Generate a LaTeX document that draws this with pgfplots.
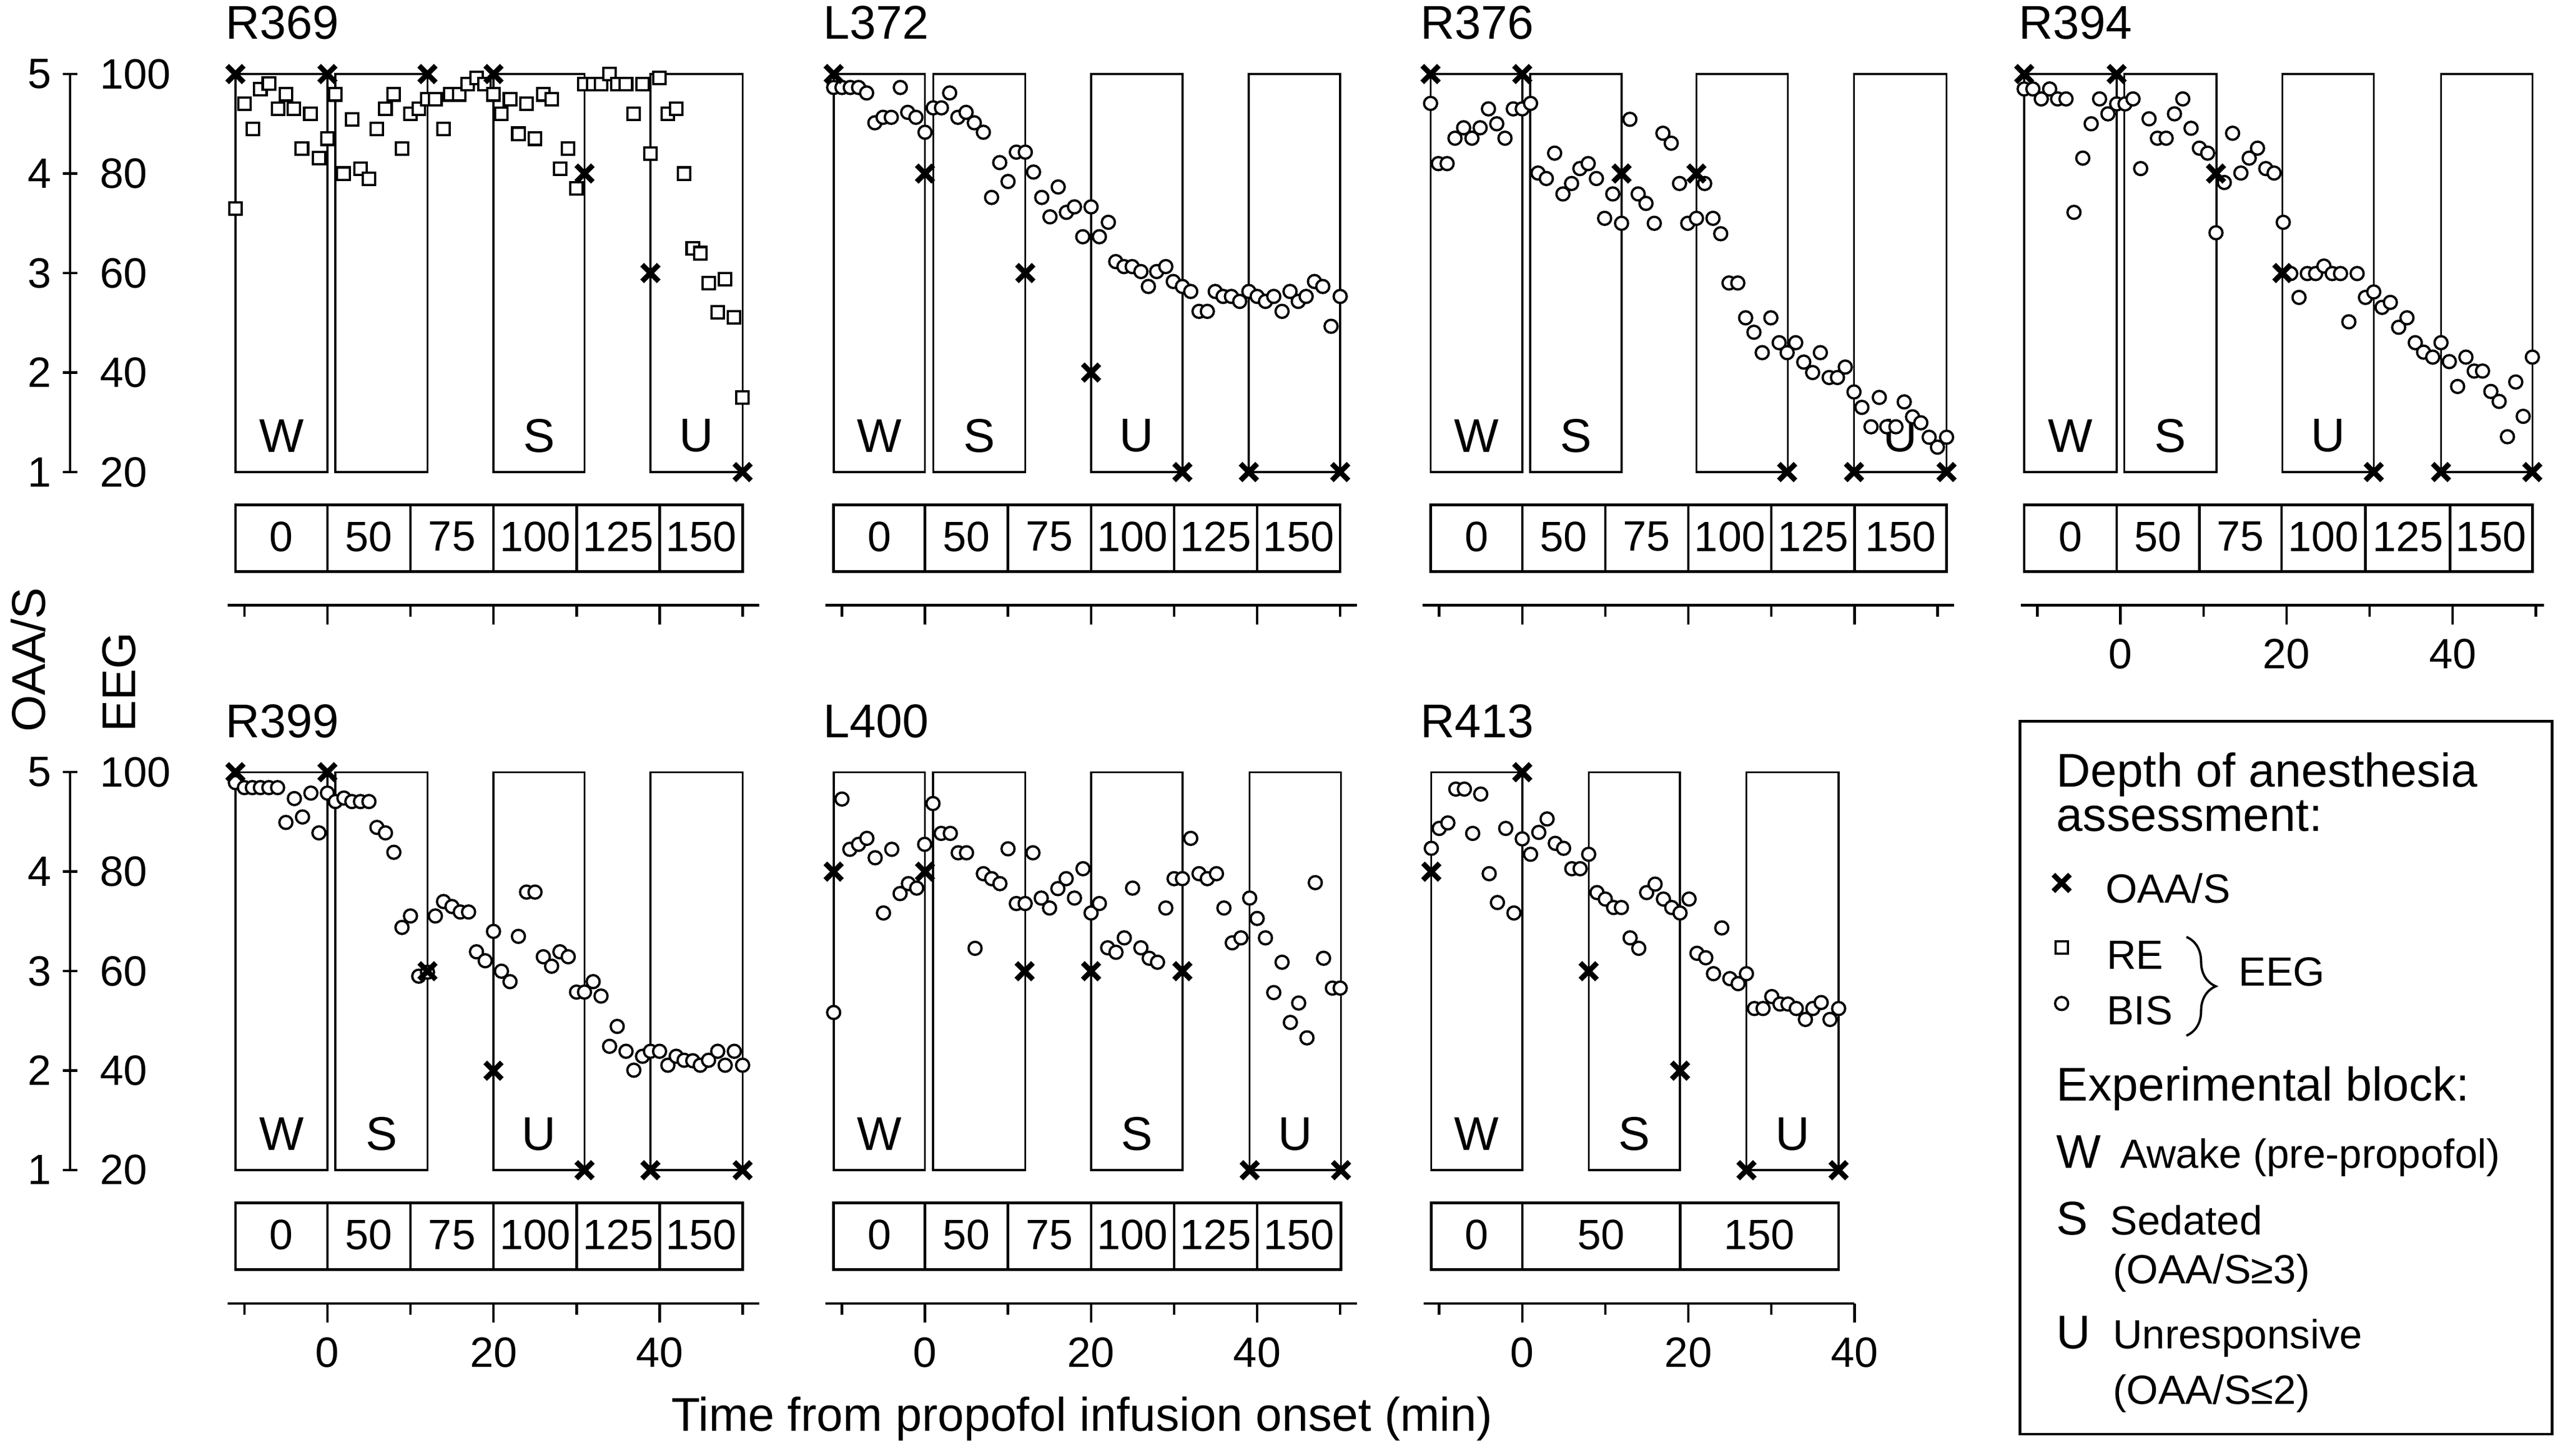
\documentclass[border=0pt]{standalone}
\usepackage{fontspec}
\setmainfont{Liberation Sans}
\usepackage{pgfplots}
\pgfplotsset{compat=1.18}
\usetikzlibrary{decorations.pathreplacing}

\newcommand\bigf{\fontsize{14.5}{17}\selectfont}
\newcommand\numf{\fontsize{13}{15}\selectfont}
\newcommand\legf{\fontsize{12.5}{15}\selectfont}

% block box: left, right, centre, label
\newcommand\blk[4]{%
  \draw[line width=0.6pt] (axis cs:#1,20) rectangle (axis cs:#2,100);
  \node[font=\bigf, inner sep=0pt] at (axis cs:#3,27.3) {#4};}
% dose cell: left, right, centre, label
\newcommand\dose[4]{%
  \draw[line width=0.8pt] (axis cs:#1,0) rectangle (axis cs:#2,13.4);
  \node[font=\numf, inner sep=0pt] at (axis cs:#3,7) {#4};}
\newcommand\ttl[1]{\node[font=\bigf, inner sep=0pt, anchor=base west] at (axis cs:-12.3,107) {#1};}

\pgfplotsset{
  panel/.style={anchor=origin, x=2.545pt, y=1.525pt, xmin=-12, xmax=52, ymin=-6.8, ymax=100,
    axis x line=bottom, axis y line=none, ytick=\empty,
    axis line style={-, line width=0.8pt},
    clip=false, xtick={0,20,40}, minor xtick={-10,10,30,50},
    tick align=outside, major tick length=5.8pt, minor tick length=3.5pt,
    tick style={line width=0.8pt, black},
    xticklabels={,,},
    xticklabel style={font=\numf, yshift=-1pt}},
  lab/.style={xticklabels={0,20,40}},
  xmk/.style={only marks, mark=x, mark size=3.6pt, black, mark options={line width=1.6pt}},
  oaa/.style={xmk, y filter/.expression={20*y}},
  re/.style={only marks, mark=square*, mark size=1.9pt, mark options={fill=white, draw=black, line width=0.7pt}},
  bis/.style={only marks, mark=*, mark size=2pt, mark options={fill=white, draw=black, line width=0.7pt}},
  eegscale/.style={anchor=south east, x=1pt, y=1.525pt, xmin=0, xmax=1, ymin=20, ymax=100,
    axis y line=right, axis x line=none, xtick=\empty,
    axis line style={-, line width=0.8pt},
    ytick={20,40,60,80,100}, yticklabels={20,40,60,80,100},
    tick align=center, major tick length=4.6pt, tick style={line width=0.8pt, black},
    yticklabel style={font=\numf, anchor=west, xshift=3.3pt}},
  oaascale/.style={anchor=south west, x=1pt, y=30.5pt, xmin=0, xmax=1, ymin=1, ymax=5,
    axis y line=left, axis x line=none, xtick=\empty,
    axis line style={-, line width=0.8pt},
    ytick={1,2,3,4,5}, yticklabels={1,2,3,4,5}, major tick length=0pt,
    yticklabel style={font=\numf, anchor=east, xshift=-2.3pt}},
}

\begin{document}
\begin{tikzpicture}

% ---------- left scales ----------
\begin{axis}[eegscale, at={(21.5pt,-144.7pt)}]\end{axis}
\begin{axis}[oaascale, at={(21.5pt,-144.7pt)}]\end{axis}
\begin{axis}[eegscale, at={(21.5pt,-358.65pt)}]\end{axis}
\begin{axis}[oaascale, at={(21.5pt,-358.65pt)}]\end{axis}

% ---------- R369 ----------
\begin{axis}[panel, at={(100.35pt,-175.2pt)}]
\ttl{R369}
\blk{-11.08}{0}{-5.54}{W}\blk{0.96}{12.05}{6.5}{}\blk{20}{30.96}{25.48}{S}\blk{38.9}{50}{44.45}{U}
\dose{-11.08}{0}{-5.54}{0}\dose{0}{10}{5}{50}\dose{10}{20}{15}{75}\dose{20}{30}{25}{100}\dose{30}{40}{35}{125}\dose{40}{50}{45}{150}
\addplot[re] coordinates {(-11.08,73.0)(-10,94.0)(-8.98,89.0)(-8.07,97.0)(-7.05,98.1)(-5.96,93.0)(-5.0,95.9)(-4.04,93.0)(-3.07,85.0)(-2.05,92.0)(-1.02,83.1)(0,87.0)(0.96,95.9)(1.93,80.0)(2.95,90.9)(3.98,81.0)(5.0,78.9)(5.96,89.0)(6.99,93.0)(7.95,95.9)(8.98,85.0)(10.0,92.0)(11.02,93.0)(12.05,94.9)(13.0,94.9)(13.98,89.0)(14.8,95.9)(15.9,95.9)(16.9,98.0)(17.95,99.2)(18.9,98.0)(20.0,95.9)(20.96,92.0)(21.99,94.9)(23.0,88.0)(23.98,94.0)(25.0,87.0)(26.0,95.9)(27.0,94.9)(28.0,81.0)(29.0,85.0)(30.0,77.0)(30.96,98.0)(32.0,98.0)(32.95,98.0)(33.98,100)(34.9,98.0)(35.96,98.0)(36.9,92.0)(37.95,98.0)(38.9,84.0)(40.0,99.2)(41.0,92.0)(42.0,93.0)(42.95,80.0)(44.0,65.0)(44.9,64.0)(45.9,58.0)(46.99,52.1)(47.9,58.8)(48.98,51.1)(50.0,35.0)};
\addplot[oaa] coordinates {(-11.08,5)(0,5)(12.05,5)(20,5)(30.96,4)(38.9,3)(50,1)};
\end{axis}

% ---------- L372 ----------
\begin{axis}[panel, at={(283.5pt,-175.2pt)}]
\ttl{L372}
\blk{-11}{0}{-5.5}{W}\blk{0.99}{12.08}{6.54}{S}\blk{20}{31}{25.5}{U}\blk{39}{50}{44.5}{}
\dose{-11}{0}{-5.5}{0}\dose{0}{10}{5}{50}\dose{10}{20}{15}{75}\dose{20}{30}{25}{100}\dose{30}{40}{35}{125}\dose{40}{50}{45}{150}
\addplot[bis] coordinates {(-11,97.3)(-10,97.3)(-9,97.3)(-8,97.3)(-7.03,96.2)(-6.04,90.2)(-5.05,91.3)(-4.06,91.3)(-2.97,97.3)(-2.08,92.3)(-1.09,91.3)(0,88.3)(0.99,93.2)(1.98,93.2)(2.97,96.2)(3.96,91.3)(4.95,92.3)(5.94,90.2)(7.03,88.3)(8.02,75.2)(9,82.2)(10,78.4)(11,84.3)(12.08,84.3)(13.07,80.3)(14.06,75.2)(15.05,71.3)(16.04,77.3)(17.03,72.2)(18,73.3)(19,67.3)(20,73.3)(21,67.3)(22.08,70.2)(22.97,62.3)(23.96,61.3)(24.95,61.3)(26,60.3)(26.9,57.3)(27.9,60.3)(29,61.3)(29.9,58.3)(31,57.3)(32,56.3)(33,52.3)(34,52.3)(34.95,56.3)(35.9,55.3)(36.9,55.3)(37.9,54.3)(39,56.3)(40,55.3)(41,54.3)(42,55.3)(43,52.3)(43.96,56.3)(44.95,54.3)(45.9,55.3)(46.9,58.3)(47.9,57.3)(48.9,49.3)(50,55.3)};
\addplot[oaa] coordinates {(-11,5)(0,4)(12.08,3)(20,2)(31,1)(39,1)(50,1)};
\end{axis}

% ---------- R376 ----------
\begin{axis}[panel, at={(466.55pt,-175.2pt)}]
\ttl{R376}
\blk{-11.04}{0}{-5.52}{W}\blk{0.96}{11.96}{6.46}{S}\blk{20.98}{31.98}{26.48}{}\blk{39.95}{51.1}{45.5}{U}
\dose{-11.04}{0}{-5.52}{0}\dose{0}{10}{5}{50}\dose{10}{20}{15}{75}\dose{20}{30}{25}{100}\dose{30}{40}{35}{125}\dose{40}{51.1}{45.55}{150}
\addplot[bis] coordinates {(-11.04,94.1)(-10.1,82.0)(-9.05,82.0)(-8.1,87.1)(-7.06,89.2)(-6.06,87.1)(-5.07,89.2)(-4.07,93.0)(-3.07,90.0)(-2.08,87.1)(-1.08,93.0)(0,93.0)(1.0,94.1)(1.9,80.1)(2.9,79.0)(3.9,84.1)(4.9,75.9)(5.94,78.0)(6.94,81.0)(7.94,82.0)(8.93,79.0)(9.92,71.0)(10.9,75.9)(11.96,70.0)(12.96,90.9)(13.96,75.9)(14.9,74.0)(15.9,70.0)(16.94,88.1)(17.94,86.1)(18.94,78.0)(19.93,70.0)(20.98,71.0)(21.97,78.0)(22.97,71.0)(23.9,67.9)(24.9,58.0)(25.96,58.0)(26.9,51.0)(27.9,48.1)(28.9,44.0)(29.94,51.0)(30.94,46.0)(31.9,44.0)(32.93,46.0)(33.9,42.1)(34.97,40.0)(35.9,44.0)(36.96,39.0)(37.96,39.0)(38.9,41.1)(39.95,36.1)(40.9,33.0)(42.0,29.1)(43.0,35.0)(43.9,29.1)(45.0,29.1)(46.0,34.1)(47.0,31.1)(48.0,29.9)(49.0,27.0)(50.0,25.0)(51.1,27.0)};
\addplot[oaa] coordinates {(-11.04,5)(0,5)(11.96,4)(20.98,4)(31.9,1)(39.95,1)(51.1,1)};
\end{axis}

% ---------- R394 ----------
\begin{axis}[panel, lab, xmax=51, at={(649.9pt,-175.2pt)}]
\ttl{R394}
\blk{-11.6}{-0.46}{-6.03}{W}\blk{0.46}{11.56}{6.01}{S}\blk{19.5}{30.5}{25}{U}\blk{38.6}{49.6}{44.1}{}
\dose{-11.6}{-0.46}{-6.03}{0}\dose{-0.46}{9.5}{4.52}{50}\dose{9.5}{19.4}{14.45}{75}\dose{19.4}{29.5}{24.45}{100}\dose{29.5}{39.7}{34.6}{125}\dose{39.7}{49.6}{44.65}{150}
\addplot[bis] coordinates {(-11.6,97.0)(-10.55,97.0)(-9.54,95.0)(-8.53,97.0)(-7.57,95.0)(-6.56,95.0)(-5.6,72.2)(-4.54,83.1)(-3.53,90.0)(-2.52,95.0)(-1.51,92.0)(-0.46,94.0)(0.55,94.0)(1.51,95.0)(2.43,81.0)(3.44,91.0)(4.45,87.1)(5.5,87.1)(6.5,92.0)(7.5,95.0)(8.5,89.1)(9.5,85.1)(10.5,84.1)(11.5,68.1)(12.5,78.2)(13.5,88.1)(14.5,80.1)(15.5,83.1)(16.5,85.1)(17.5,81.0)(18.5,80.1)(19.6,70.2)(20.5,59.9)(21.5,55.1)(22.5,59.9)(23.5,59.9)(24.5,61.4)(25.5,59.9)(26.5,59.9)(27.5,50.2)(28.5,59.9)(29.5,55.1)(30.5,56.2)(31.5,53.1)(32.5,54.1)(33.5,49.1)(34.5,51.0)(35.5,46.0)(36.5,44.1)(37.6,43.1)(38.6,46.0)(39.6,42.2)(40.6,37.2)(41.6,43.1)(42.6,40.3)(43.6,40.3)(44.6,36.2)(45.6,34.2)(46.6,27.1)(47.6,38.1)(48.5,31.2)(49.6,43.1)};
\addplot[oaa] coordinates {(-11.6,5)(-0.46,5)(11.5,4)(19.5,3)(30.5,1)(38.6,1)(49.6,1)};
\end{axis}

% ---------- R399 ----------
\begin{axis}[panel, lab, at={(100.35pt,-389.2pt)}]
\ttl{R399}
\blk{-11.08}{0}{-5.54}{W}\blk{0.96}{12.05}{6.5}{S}\blk{20}{30.96}{25.48}{U}\blk{38.9}{50}{44.45}{}
\dose{-11.08}{0}{-5.54}{0}\dose{0}{10}{5}{50}\dose{10}{20}{15}{75}\dose{20}{30}{25}{100}\dose{30}{40}{35}{125}\dose{40}{50}{45}{150}
\addplot[bis] coordinates {(-11.08,97.9)(-10,96.9)(-9.04,96.9)(-8.07,96.9)(-7.05,96.9)(-6.0,96.9)(-5.0,89.9)(-3.98,94.7)(-3.0,91.0)(-1.99,95.8)(-1.02,87.8)(0,95.8)(0.96,94.1)(1.99,94.8)(2.95,94.1)(3.98,94.1)(5.0,94.1)(5.96,88.9)(6.99,87.8)(8.0,83.9)(8.98,68.8)(10.0,71.1)(11.0,59.0)(12.05,59.8)(13.0,71.1)(13.98,74.0)(15.0,73.0)(16.0,71.9)(17.0,71.9)(17.95,63.9)(19.0,62.1)(20.0,68.0)(20.96,60.0)(21.99,57.9)(23.0,67.0)(23.98,75.9)(25.0,75.9)(26.0,62.9)(27.0,61.0)(28.0,63.9)(29.0,62.9)(30.0,55.8)(30.96,55.8)(32.0,57.9)(32.95,55.0)(33.98,44.9)(34.9,48.9)(35.96,43.9)(36.9,40.1)(37.95,42.9)(38.9,43.9)(40.0,43.9)(41.0,41.1)(42.0,42.9)(42.95,42.1)(44.0,42.0)(44.9,41.1)(45.9,42.1)(47.0,43.9)(47.9,41.1)(49.0,43.9)(50.0,41.1)};
\addplot[oaa] coordinates {(-11.08,5)(0,5)(12.05,3)(20,2)(30.96,1)(38.9,1)(50,1)};
\end{axis}

% ---------- L400 ----------
\begin{axis}[panel, lab, at={(283.5pt,-389.2pt)}]
\ttl{L400}
\blk{-11}{0}{-5.5}{W}\blk{0.96}{12.06}{6.51}{}\blk{20}{31}{25.5}{S}\blk{39.1}{50.1}{44.6}{U}
\dose{-11}{0}{-5.5}{0}\dose{0}{10}{5}{50}\dose{10}{20}{15}{75}\dose{20}{30}{25}{100}\dose{30}{40}{35}{125}\dose{40}{50.1}{45.05}{150}
\addplot[bis] coordinates {(-11,51.7)(-10,94.6)(-9.05,84.5)(-8,85.5)(-7,86.7)(-6,82.8)(-5,71.7)(-4,84.5)(-3,75.6)(-2,77.6)(-1,76.7)(-0.04,85.5)(0.96,93.7)(1.95,87.7)(3.05,87.7)(4,83.8)(5,83.8)(6.03,64.6)(7.03,79.6)(8.03,78.6)(9.02,77.6)(10,84.6)(11,73.6)(12.06,73.6)(13,83.8)(14,74.7)(15,72.7)(16,76.6)(17,78.6)(18,74.7)(19.03,80.6)(20,71.7)(21,73.6)(22,64.7)(23,63.8)(24,66.7)(25,76.7)(26,64.7)(27,62.6)(28,61.8)(29,72.7)(30,78.6)(31,78.6)(32,86.7)(33,79.6)(34,78.6)(35.1,79.6)(36,72.7)(37,65.7)(38.05,66.7)(39.1,74.7)(40,70.6)(41,66.7)(42,55.7)(43,61.8)(44,49.7)(45,53.6)(46,46.6)(47,77.8)(48,62.6)(49.06,56.6)(50,56.6)};
\addplot[oaa] coordinates {(-11,4)(0,4)(12,3)(20,3)(31,3)(39.1,1)(50.1,1)};
\end{axis}

% ---------- R413 ----------
\begin{axis}[panel, lab, xmin=-11.9, xmax=40, minor xtick={-10,10,30}, at={(466.55pt,-389.2pt)}]
\ttl{R413}
\blk{-10.95}{0}{-5.48}{W}\blk{8}{19}{13.5}{S}\blk{27}{38.1}{32.55}{U}
\dose{-10.95}{0}{-5.48}{0}\dose{0}{19}{9.5}{50}\dose{19}{38.1}{28.55}{150}
\addplot[bis] coordinates {(-10.95,84.7)(-10,88.7)(-8.96,89.8)(-8,96.6)(-6.97,96.6)(-5.97,87.7)(-5,95.6)(-3.98,79.6)(-2.99,73.8)(-1.99,88.7)(-1,71.7)(0,86.6)(1,83.5)(1.99,87.9)(2.99,90.6)(3.98,85.7)(4.98,84.7)(5.97,80.6)(6.97,80.6)(8,83.5)(9,75.8)(10,74.5)(11,72.8)(11.94,72.8)(12.99,66.7)(14.03,64.6)(14.98,75.8)(16,77.5)(17,74.5)(18,72.8)(19,71.7)(20.09,74.5)(21.04,63.6)(22.1,62.7)(23.03,59.5)(24.03,68.7)(25,58.5)(26,57.5)(27,59.5)(27.96,52.5)(29,52.5)(30.05,54.9)(31.04,53.4)(32,53.4)(33,52.5)(34.1,50.3)(35,52.5)(36,53.7)(37.06,50.3)(38.1,52.5)};
\addplot[oaa] coordinates {(-10.95,4)(0,5)(8,3)(19,2)(27,1)(38.1,1)};
\end{axis}

% ---------- legend symbols ----------
\begin{axis}[at={(0pt,0pt)}, anchor=origin, x=1pt, y=1pt, xmin=0, xmax=784, ymin=-446, ymax=0, hide axis, clip=false]
\addplot[xmk] coordinates {(631.85,-270.65)};
\addplot[re] coordinates {(631.85,-290.45)};
\addplot[bis] coordinates {(631.85,-307.6)};
\end{axis}

% ---------- texts ----------
\node[rotate=90, anchor=base west, inner sep=0pt, font=\bigf] at (13.8pt,-224.6pt) {OAA/S};
\node[rotate=90, anchor=base west, inner sep=0pt, font=\bigf] at (41.45pt,-224.6pt) {EEG};
\node[anchor=base, inner sep=0pt, font=\bigf] at (331.6pt,-438.65pt) {Time from propofol infusion onset (min)};

\draw[line width=0.8pt] (619.05pt,-221.05pt) rectangle (782.15pt,-439.6pt);
\begin{scope}[every node/.style={inner sep=0pt, anchor=base west}]
\node[font=\bigf] at (630.15pt,-241.15pt) {Depth of anesthesia};
\node[font=\bigf] at (630.15pt,-254.7pt) {assessment:};
\node[font=\legf] at (645.15pt,-276.85pt) {OAA/S};
\node[font=\legf] at (645.5pt,-297.1pt) {RE};
\node[font=\legf] at (645.5pt,-314.05pt) {BIS};
\node[font=\legf] at (686pt,-302.25pt) {EEG};
\node[font=\bigf] at (630.15pt,-337.4pt) {Experimental block:};
\node[font=\bigf] at (630.15pt,-358.05pt) {W};
\node[font=\legf] at (649.6pt,-358.05pt) {Awake (pre-propofol)};
\node[font=\bigf] at (630.15pt,-378.45pt) {S};
\node[font=\legf] at (646.6pt,-378.45pt) {Sedated};
\node[font=\legf] at (647.4pt,-393.5pt) {(OAA/S≥3)};
\node[font=\bigf] at (630.15pt,-413.45pt) {U};
\node[font=\legf] at (647.4pt,-413.45pt) {Unresponsive};
\node[font=\legf] at (647.4pt,-430.4pt) {(OAA/S≤2)};
\end{scope}
\draw[line width=0.7pt, decorate, decoration={brace, amplitude=9pt}] (670.1pt,-287.2pt) -- (670.1pt,-317.45pt);

\pgfresetboundingbox
\path[use as bounding box] (0pt,-446.3pt) rectangle (784pt,0pt);
\end{tikzpicture}
\end{document}
